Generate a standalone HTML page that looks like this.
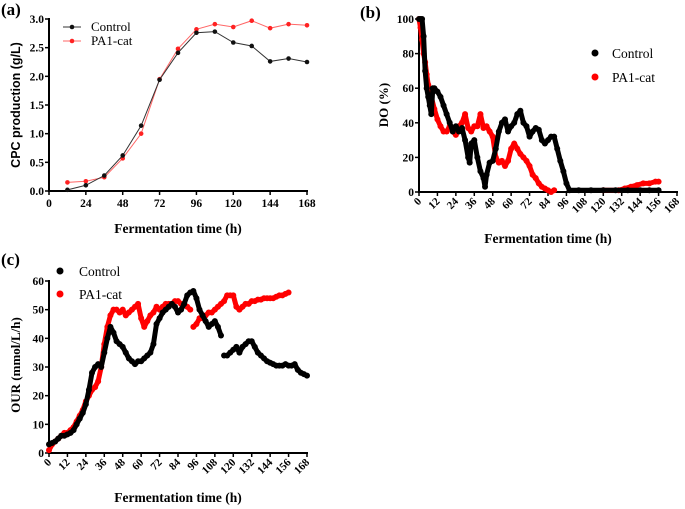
<!DOCTYPE html>
<html><head><meta charset="utf-8"><style>
body{margin:0;background:#fff;}
svg{display:block;font-family:"Liberation Serif",serif;}
</style></head><body>
<svg id="fig" width="685" height="509" viewBox="0 0 685 509"></svg>
<script>
// Panel (a) data
const aTimes=[12,24,36,48,60,72,84,96,108,120,132,144,156,168];
const aControl=[0.02,0.1,0.27,0.62,1.14,1.94,2.41,2.76,2.78,2.59,2.53,2.26,2.31,2.25];
const aPA1=[0.15,0.17,0.24,0.57,1.0,1.95,2.48,2.82,2.91,2.86,2.97,2.84,2.91,2.89];
const aYTicks=[0,0.5,1.0,1.5,2.0,2.5,3.0];
const xTicks=[0,24,48,72,96,120,144,168];
const xTicks12=[0,12,24,36,48,60,72,84,96,108,120,132,144,156,168];
// Panel (b) data
const bCtlT=[0,1,2,3,4,5,6,7,8,9,10,12,14,16,18,20,22,24,26,28,30,32,33,34,36,38,40,42,43,44,46,48,50,52,54,56,58,60,62,64,66,68,70,72,74,76,78,80,82,84,86,88,90,92,94,96,98,104,112,120,128,136,144,150,156];
const bCtlV=[100,100,100,90,70,60,55,50,45,60,60,58,55,50,45,40,35,38,35,37,30,20,17,28,30,20,12,8,3,10,17,18,25,35,40,42,35,38,40,45,47,40,38,32,35,37,36,30,28,30,32,32,25,18,12,5,1,1,1,1,1,1,1,1,1];
const bPaT=[0,1,2,3,4,5,6,8,10,12,14,16,18,20,22,24,26,28,30,32,34,36,38,40,42,44,46,48,50,52,54,56,58,60,62,64,66,68,70,72,74,76,78,80,82,84,86,88];
const bPaV=[100,95,88,80,75,68,62,55,48,42,38,35,35,38,35,33,38,40,45,37,35,38,38,45,37,38,35,32,20,17,18,15,18,25,28,25,22,20,18,15,10,8,5,3,2,1,0,1];
const bPaT2=[120,130,134,138,142,146,150,154,156];
const bPaV2=[1,1,2,3,4,5,5,6,6];
const bYTicks=[0,20,40,60,80,100];
// Panel (c) data
const cCtlT=[0,2,4,6,8,10,12,14,16,18,20,22,24,26,28,30,32,34,36,38,40,42,44,46,48,50,52,54,56,58,60,62,64,66,68,70,72,74,76,78,80,82,84,86,88,90,92,94,96,98,100,102,104,106,108,110,112];
const cCtlV=[3,3.5,4,5,6,6,6.5,7,8,10,12,14,17,22,28,30,31,30,35,40,44,42,39,38,37,35,33,32,31,32,32,33,34,35,38,45,47,49,50,51,52,51,49,50,52,55,56,56.5,54,50,48,46,44,45,46,44,41];
const cCtlT2=[114,116,118,120,122,124,126,128,130,132,134,136,138,140,142,144,146,148,150,152,154,156,158,160,162,164,166,168];
const cCtlV2=[34,34,35,36,37,35,37,38,39,39,37,35,34,33,32,31.5,31,30.5,30.5,30.5,31,30.5,30.5,31,29,28,27.5,27];
const cPaT=[0,2,4,6,8,10,12,14,16,18,20,22,24,26,28,30,32,34,36,38,40,42,44,46,48,50,52,54,56,58,60,62,64,66,68,70,72,74,76,78,80,82,84,86,88,90,92];
const cPaV=[1,3,4,5,6,7,7,8,9,11,13,15,18,20,22,23,25,30,38,44,48,50,50,49,50,48,49,50,51,52,47,44,46,48,49,51,50,51,52,52,52,53,53,52,52,51,50];
const cPaT2=[94,96,98,100,102,104,106,108,110,112,114,116,118,120,122,124,126,128,130,132,134,136,138,140,142,144,146,148,150,152,154,156];
const cPaV2=[44,45,47,47,48,49,49,50,51,52,53,55,55,55,51,50,51,52,52,53,53,53.5,53.5,54,54,54,54,54.5,55,55,55.5,56];
const cYTicks=[0,10,20,30,40,50,60];

const NS="http://www.w3.org/2000/svg";
const svg=document.getElementById('fig');
function mk(tag,attrs,parent,txt){const e=document.createElementNS(NS,tag);for(const k in attrs)e.setAttribute(k,attrs[k]);if(txt!==undefined)e.textContent=txt;(parent||svg).appendChild(e);return e;}

function axes(g,o){
  const sx=v=>o.x0+(v-o.xmin)/(o.xmax-o.xmin)*(o.x1-o.x0);
  const sy=v=>o.y0-(v-o.ymin)/(o.ymax-o.ymin)*(o.y0-o.y1);
  let e=mk('line',{x1:o.x0,y1:o.y0,x2:o.x1+1,y2:o.y0,stroke:'#000','stroke-width':2},g);
  
  
  e=mk('line',{x1:o.x0,y1:o.y0+1,x2:o.x0,y2:o.y1-1,stroke:'#000','stroke-width':2},g);
  
  
  o.xt.forEach(t=>{const x=sx(t);
    mk('line',{x1:x,y1:o.y0,x2:x,y2:o.y0+4,stroke:'#000','stroke-width':1.5},g);
    let l;
    if(o.rot){l=mk('text',{x:x+3,y:o.y0+10,'font-size':11,'font-weight':'bold','text-anchor':'end',transform:`rotate(-45 ${x+3} ${o.y0+10})`},g,t);}
    else l=mk('text',{x:x,y:o.y0+16,'font-size':11.5,'font-weight':'bold','text-anchor':'middle'},g,t);
    
    
  });
  o.yt.forEach(t=>{const y=sy(t);
    mk('line',{x1:o.x0-4,y1:y,x2:o.x0,y2:y,stroke:'#000','stroke-width':1.5},g);
    const l=mk('text',{x:o.x0-5,y:y+4,'font-size':11.5,'font-weight':'bold','text-anchor':'end'},g,o.yf?o.yf(t):t);
    
    
  });
  return {sx,sy};
}
function dense(g,s,T,V,color,name){
  const pts=T.map((t,i)=>s.sx(t)+','+s.sy(V[i])).join(' ');
  const p=mk('polyline',{points:pts,fill:'none',stroke:color,'stroke-width':5,'stroke-linejoin':'round','stroke-linecap':'round'},g);
  
  
  T.forEach((t,i)=>{const c=mk('circle',{cx:s.sx(t),cy:s.sy(V[i]),r:3,fill:color},g);
    
    });
}

// Panel a
const ga=mk('g',{});


const sa=axes(ga,{x0:49,x1:307,y0:191,y1:19,xmin:0,xmax:168,ymin:0,ymax:3,xt:xTicks,yt:aYTicks,yf:v=>v.toFixed(1)});
[[aPA1,'#f33','pa1-cat'],[aControl,'#222','control']].forEach(([V,c,n])=>{
  const l=mk('polyline',{points:aTimes.map((t,i)=>sa.sx(t)+','+sa.sy(V[i])).join(' '),fill:'none',stroke:c==='#222'?'#333':'#f66','stroke-width':1},ga);
  
  
  aTimes.forEach((t,i)=>{const p=mk('circle',{cx:sa.sx(t),cy:sa.sy(V[i]),r:2.3,fill:c==='#222'?'#111':'#f22'},ga);
    
    });
});
let t;
t=mk('text',{x:1,y:15,'font-size':17,'font-weight':'bold'},ga,'(a)');
t=mk('text',{x:0,y:0,'font-size':12.5,'font-weight':'bold','font-family':'Liberation Sans, sans-serif','text-anchor':'middle',transform:'translate(20 105) rotate(-90)'},ga,'CPC production (g/L)');
t=mk('text',{x:178,y:233,'font-size':13.5,'font-weight':'bold','text-anchor':'middle'},ga,'Fermentation time (h)');
mk('line',{x1:63,y1:27,x2:81,y2:27,stroke:'#333'},ga);mk('circle',{cx:72,cy:27,r:2.3,fill:'#111'},ga);
t=mk('text',{x:91,y:31,'font-size':13},ga,'Control');
mk('line',{x1:63,y1:41,x2:81,y2:41,stroke:'#f66'},ga);mk('circle',{cx:72,cy:41,r:2.3,fill:'#f22'},ga);
t=mk('text',{x:91,y:45,'font-size':13},ga,'PA1-cat');

// Panel b
const gb=mk('g',{});


const sb=axes(gb,{x0:419,x1:677,y0:192,y1:19,xmin:0,xmax:168,ymin:0,ymax:100,xt:xTicks12,yt:bYTicks,rot:true});
dense(gb,sb,bPaT,bPaV,'#f00','do-pa1-cat');
dense(gb,sb,bPaT2,bPaV2,'#f00','do-pa1-cat');
dense(gb,sb,bCtlT,bCtlV,'#000','do-control');
t=mk('text',{x:360,y:18,'font-size':17,'font-weight':'bold'},gb,'(b)');
t=mk('text',{x:0,y:0,'font-size':13,'font-weight':'bold','text-anchor':'middle',transform:'translate(388 105) rotate(-90)'},gb,'DO (%)');
t=mk('text',{x:548,y:243,'font-size':13.5,'font-weight':'bold','text-anchor':'middle'},gb,'Fermentation time (h)');
mk('circle',{cx:595,cy:53,r:3.5,fill:'#000'},gb);
t=mk('text',{x:612,y:58,'font-size':13.5},gb,'Control');
mk('circle',{cx:595,cy:77,r:3.5,fill:'#f00'},gb);
t=mk('text',{x:612,y:82,'font-size':13.5},gb,'PA1-cat');

// Panel c
const gc=mk('g',{});


const sc=axes(gc,{x0:49,x1:307,y0:453,y1:281,xmin:0,xmax:168,ymin:0,ymax:60,xt:xTicks12,yt:cYTicks,rot:true});
dense(gc,sc,cPaT,cPaV,'#f00','our-pa1-cat');
dense(gc,sc,cPaT2,cPaV2,'#f00','our-pa1-cat');
dense(gc,sc,cCtlT,cCtlV,'#000','our-control');
dense(gc,sc,cCtlT2,cCtlV2,'#000','our-control');
t=mk('text',{x:1,y:265,'font-size':17,'font-weight':'bold'},gc,'(c)');
t=mk('text',{x:0,y:0,'font-size':13,'font-weight':'bold','text-anchor':'middle',transform:'translate(20 365) rotate(-90)'},gc,'OUR (mmol/L/h)');
t=mk('text',{x:178,y:502,'font-size':13.5,'font-weight':'bold','text-anchor':'middle'},gc,'Fermentation time (h)');
mk('circle',{cx:60,cy:271,r:3.5,fill:'#000'},gc);
t=mk('text',{x:79,y:276,'font-size':13.5},gc,'Control');
mk('circle',{cx:60,cy:294,r:3.5,fill:'#f00'},gc);
t=mk('text',{x:79,y:299,'font-size':13.5},gc,'PA1-cat');
</script>
</body></html>
